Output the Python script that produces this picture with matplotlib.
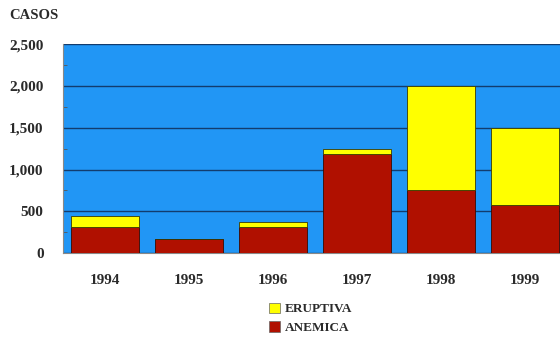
import numpy as np
import matplotlib.pyplot as plt
from matplotlib.ticker import FuncFormatter, MultipleLocator
from matplotlib.patches import Patch

anos = ['1994', '1995', '1996', '1997', '1998', '1999']
anemica = [310, 170, 310, 1180, 750, 580]
eruptiva = [130, 0, 60, 60, 1250, 920]

plt.rcParams['font.family'] = ['Liberation Serif', 'DejaVu Serif']
plt.rcParams['font.weight'] = 'bold'

fig = plt.figure(figsize=(5.6, 3.37), dpi=100)
ax = fig.add_axes([0.1125, 0.249, 0.9, 0.62])
ax.set_facecolor('#2196f5')

x = np.arange(len(anos))
ax.bar(x, anemica, width=0.81, color='#b01000', edgecolor='#3a0a00', linewidth=0.6, zorder=3)
ax.bar(x, eruptiva, width=0.81, bottom=anemica, color='#ffff00', edgecolor='#3a3a00',
       linewidth=0.6, zorder=3)

ax.set_xlim(-0.5, len(anos) - 0.5)
ax.set_ylim(0, 2500)
ax.yaxis.set_major_locator(MultipleLocator(500))
ax.yaxis.set_minor_locator(MultipleLocator(250))
ax.yaxis.set_major_formatter(FuncFormatter(lambda v, p: f'{int(v):,}'))
ax.grid(axis='y', color='#123c6e', linewidth=1.0, zorder=1)

ax.set_xticks(x)
ax.set_xticklabels(anos, fontsize=11, fontweight='bold', color='#2a2a2a')
ax.tick_params(axis='x', length=0, pad=15)
ax.tick_params(axis='y', which='major', length=0, pad=14, labelsize=11, labelcolor='#2a2a2a')
ax.tick_params(axis='y', which='minor', length=3, color='#555555', direction='in')

for s in ['top', 'right']:
    ax.spines[s].set_visible(False)
ax.spines['left'].set_color('#888888')
ax.spines['bottom'].set_color('#888888')

fig.text(0.016, 0.953, 'CASOS', fontsize=10.5, fontweight='bold', color='#2a2a2a', va='center')

handles = [Patch(facecolor='#ffff00', edgecolor='#666666', linewidth=0.5),
           Patch(facecolor='#b01000', edgecolor='#666666', linewidth=0.5)]
fig.legend(handles, ['ERUPTIVA', 'ANEMICA'], loc='center left', bbox_to_anchor=(0.468, 0.055),
           frameon=False, prop={'size': 9.5, 'weight': 'bold'}, handlelength=0.85,
           handleheight=0.85, handletextpad=0.35, labelspacing=0.45, borderpad=0,
           labelcolor='#2a2a2a')

fig.savefig('out.png', dpi=100)
